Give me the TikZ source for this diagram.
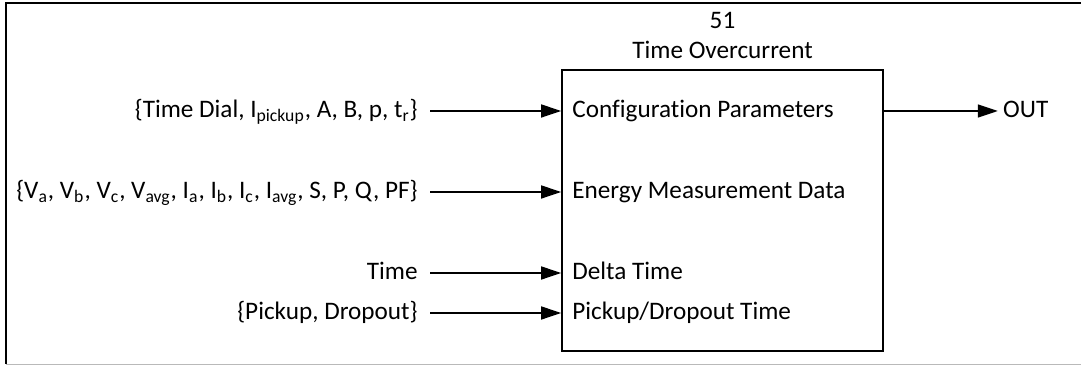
\documentclass[tikz,border=0pt]{standalone}
\usepackage{fontspec}
\setmainfont{Carlito}[Ligatures=NoCommon]
\usetikzlibrary{arrows.meta}
\usetikzlibrary{positioning}
\newcommand{\sbs}[1]{\textsubscript{#1}}
\tikzset{block/.style={draw,line width=0.8pt,inner sep=0pt,minimum width=160.5pt,minimum height=140.5pt},
         inlabel/.style={inner sep=0pt,text height=7pt,text depth=0pt},
         extlabel/.style={inner xsep=6pt,inner ysep=0pt,text height=7pt,text depth=0pt},
         outlabel/.style={extlabel,inner xsep=2.5pt},
         sig/.style={line width=0.7pt,-{Triangle[length=10pt,width=6.5pt]}},
         frame/.style={line width=1pt},
         }
\begin{document}
\begin{tikzpicture}[x=0.5pt,y=-0.5pt,font=\fontsize{12.6}{15}\selectfont]
	\useasboundingbox (0,0) rectangle (1081,367);
	% outer frame
	\draw[frame] (1081,3.5) -- (6,3.5) -- (6,364);
	\draw[gray!55,line width=0.8pt] (6,364.6) -- (1081,364.6);
	% the relay block
	\node[block] (relay) at (722.5,210.5) {};
	\node[above=5.5pt of relay.north,anchor=base] (title) {Time Overcurrent};
	\node[anchor=base] (number) at ([yshift=15pt]title.base) {51};
	% ports
	\node[inlabel,anchor=west] (cfg) at (572,111) {Configuration Parameters};
	\node[inlabel,anchor=west] (meas) at (572,192) {Energy Measurement Data};
	\node[inlabel,anchor=west] (dtime) at (572,273) {Delta Time};
	\node[inlabel,anchor=west] (pdtime) at (572,313) {Pickup/Dropout Time};
	% inputs
	\node[extlabel,left=71pt of cfg] (settings) {\{Time Dial, I\sbs{pickup}, A, B, p, t\sbs{r}\}};
	\node[extlabel,left=71pt of meas] (data) {\{V\sbs{a}, V\sbs{b}, V\sbs{c}, V\sbs{avg}, I\sbs{a}, I\sbs{b}, I\sbs{c}, I\sbs{avg}, S, P, Q, PF\}};
	\node[extlabel,left=71pt of dtime] (time) {Time};
	\node[extlabel,left=71pt of pdtime] (pickdrop) {\{Pickup, Dropout\}};
	\foreach \src in {settings,data,time,pickdrop}
		\draw[sig] (\src.east) -- (\src.east -| relay.west);
	% output
	\coordinate (cfgout) at (cfg -| relay.east);
	\node[outlabel,right=57pt of cfgout] (out) {OUT};
	\draw[sig] (cfgout) -- (out.west);
\end{tikzpicture}
\end{document}
